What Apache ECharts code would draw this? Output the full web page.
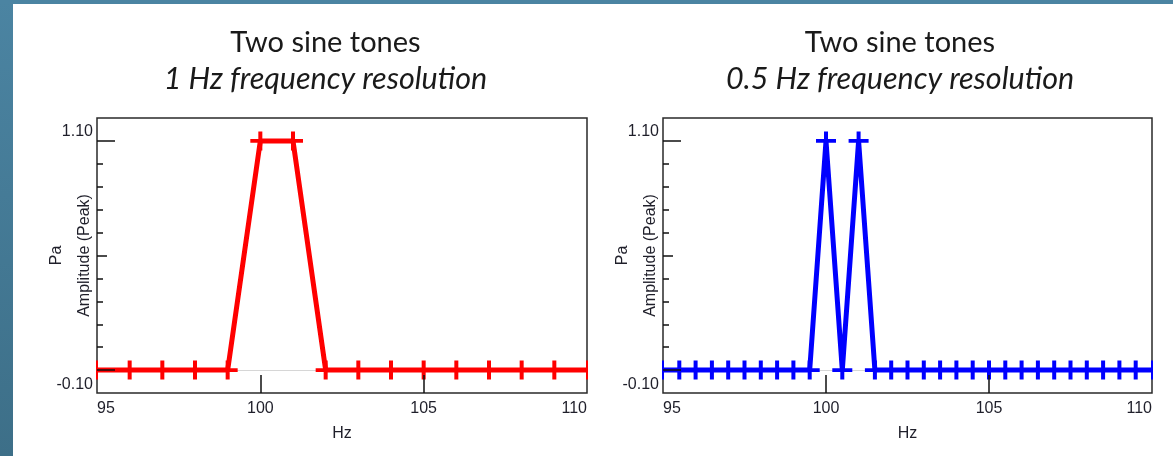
<!DOCTYPE html>
<html>
<head>
<meta charset="utf-8">
<script src="https://cdn.jsdelivr.net/npm/echarts@6/dist/echarts.min.js"></script>
<style>
html,body{margin:0;padding:0;background:#fff;}
#main{width:1173px;height:456px;}
</style>
</head>
<body>
<div id="main"></div>
<script>
// 1 Hz resolution spectrum (left)
var freqs1 = [95, 96, 97, 98, 99, 100, 101, 102, 103, 104, 105, 106, 107, 108, 109, 110];
var amps1  = [0, 0, 0, 0, 0, 1, 1, 0, 0, 0, 0, 0, 0, 0, 0, 0];
// 0.5 Hz resolution spectrum (right)
var freqs2 = [95, 95.5, 96, 96.5, 97, 97.5, 98, 98.5, 99, 99.5, 100, 100.5, 101, 101.5, 102, 102.5,
              103, 103.5, 104, 104.5, 105, 105.5, 106, 106.5, 107, 107.5, 108, 108.5, 109, 109.5, 110];
var amps2  = [0, 0, 0, 0, 0, 0, 0, 0, 0, 0, 1, 0, 1, 0, 0, 0,
              0, 0, 0, 0, 0, 0, 0, 0, 0, 0, 0, 0, 0, 0, 0];
// axis ticks / labels
var xMin = 95, xMax = 110;
var yMin = -0.1, yMax = 1.1;
var yLabelVals = [-0.1, 1.1];
var yMinorTicks = [0, 0.1, 0.2, 0.3, 0.4, 0.5, 0.6, 0.7, 0.8, 0.9, 1.0];
var yMajorTicks = [0, 1.0];
var yMidTicks = [0.5];
var xTicks = [100, 105];
var titles = ['Two sine tones', 'Two sine tones'];
var subtitles = ['1 Hz frequency resolution', '0.5 Hz frequency resolution'];

var myChart = echarts.init(document.getElementById('main'));
// "+" markers; half versions for the points sitting on the plot edges
var plus = 'path://M8,0H12V8H20V12H12V20H8V12H0V8H8Z';
var plusRight = 'path://M0,0H2V8H10V12H2V20H0Z';
var plusLeft = 'path://M8,0H10V20H8V12H0V8H8Z';
var labelFont = {fontFamily: 'Liberation Sans', fontSize: 16, color: '#1f1f2a'};

function points(xs, ys) {
  var out = [];
  for (var i = 0; i < xs.length; i++) {
    var p = {value: [xs[i], ys[i]]};
    if (xs[i] === xMin) { p.symbol = plusRight; p.symbolSize = [10, 19]; p.symbolOffset = [4, 0]; }
    if (xs[i] === xMax) { p.symbol = plusLeft; p.symbolSize = [10, 19]; p.symbolOffset = [-4, 0]; }
    out.push(p);
  }
  return out;
}

var grids = [
  {left: 97, top: 118, width: 490, height: 275},
  {left: 663, top: 118, width: 489, height: 275}
];
var xAxes = [], yAxes = [], series = [], titleArr = [];
var colors = ['#ff0000', '#0000ff'];
var dataSets = [points(freqs1, amps1), points(freqs2, amps2)];
var centers = [325.5, 900];

for (var g = 0; g < 2; g++) {
  grids[g].show = true;
  grids[g].borderColor = '#2a2a2a';
  grids[g].borderWidth = 1.5;
  grids[g].backgroundColor = '#fff';
  grids[g].outerBoundsMode = 'none';

  titleArr.push({
    text: titles[g], subtext: subtitles[g],
    left: centers[g], top: 25, textAlign: 'center', itemGap: 0, padding: 0,
    textStyle: {fontFamily: 'Lato', fontSize: 29, fontWeight: 'normal', color: '#1a1a1a', lineHeight: 36},
    subtextStyle: {fontFamily: 'Lato', fontSize: 30.5, fontStyle: 'italic', color: '#1a1a1a', lineHeight: 36}
  });

  xAxes.push({
    gridIndex: g, type: 'value', min: xMin, max: xMax, interval: 5,
    name: 'Hz', nameLocation: 'middle', nameGap: 33, nameMoveOverlap: false,
    nameTextStyle: labelFont,
    axisLine: {show: false, onZero: false},
    axisTick: {show: true, inside: true, length: 18, customValues: xTicks, lineStyle: {color: '#111', width: 1.5}},
    axisLabel: Object.assign({margin: 8, alignMinLabel: 'left', alignMaxLabel: 'right'}, labelFont),
    splitLine: {show: false}, z: 3
  });

  var base = {gridIndex: g, type: 'value', min: yMin, max: yMax, position: 'left',
              axisLine: {show: false, onZero: false}, splitLine: {show: false}};
  // labels + minor ticks
  yAxes.push(Object.assign({}, base, {
    name: 'Pa\nAmplitude (Peak)', nameLocation: 'middle', nameGap: -2, nameRotate: 90,
    nameMoveOverlap: false,
    nameTextStyle: Object.assign({lineHeight: 28}, labelFont),
    axisTick: {show: true, inside: true, length: 6, customValues: yMinorTicks, lineStyle: {color: '#111', width: 1.5}},
    axisLabel: Object.assign({margin: 4, customValues: yLabelVals, lineHeight: 16, padding: [6, 0, 0, 0],
      verticalAlignMinLabel: 'bottom', verticalAlignMaxLabel: 'top',
      formatter: function (v) { return v.toFixed(2); }}, labelFont),
    z: 3
  }));
  // long ticks
  yAxes.push(Object.assign({}, base, {
    axisTick: {show: true, inside: true, length: 18, customValues: yMajorTicks, lineStyle: {color: '#111', width: 1.5}},
    axisLabel: {show: false}, z: 3
  }));
  // middle tick
  yAxes.push(Object.assign({}, base, {
    axisTick: {show: true, inside: true, length: 10, customValues: yMidTicks, lineStyle: {color: '#111', width: 1.5}},
    axisLabel: {show: false}, z: 3
  }));
  // faint zero line
  yAxes.push(Object.assign({}, base, {
    axisTick: {show: false, customValues: [0]},
    axisLabel: {show: false},
    splitLine: {show: true, lineStyle: {color: '#d6d6d6', width: 1}}
  }));

  series.push({
    type: 'line', xAxisIndex: g, yAxisIndex: g * 4,
    data: dataSets[g],
    symbol: plus, symbolSize: [20, 19],
    lineStyle: {color: colors[g], width: 5},
    itemStyle: {color: colors[g], borderWidth: 0},
    emphasis: {disabled: true},
    z: 2
  });
}

var option = {
  backgroundColor: '#fff',
  animation: false,
  title: titleArr,
  grid: grids,
  xAxis: xAxes,
  yAxis: yAxes,
  series: series,
  graphic: [
    {type: 'rect', left: 0, top: 0, shape: {width: 13, height: 456}, z: 100,
     style: {fill: new echarts.graphic.LinearGradient(0, 0, 0, 1, [{offset: 0, color: '#4b84a2'}, {offset: 1, color: '#3d6f88'}])}},
    {type: 'rect', left: 0, top: 0, shape: {width: 1173, height: 4}, z: 100,
     style: {fill: '#4b84a2'}}
  ]
};
myChart.setOption(option);
</script>
</body>
</html>
